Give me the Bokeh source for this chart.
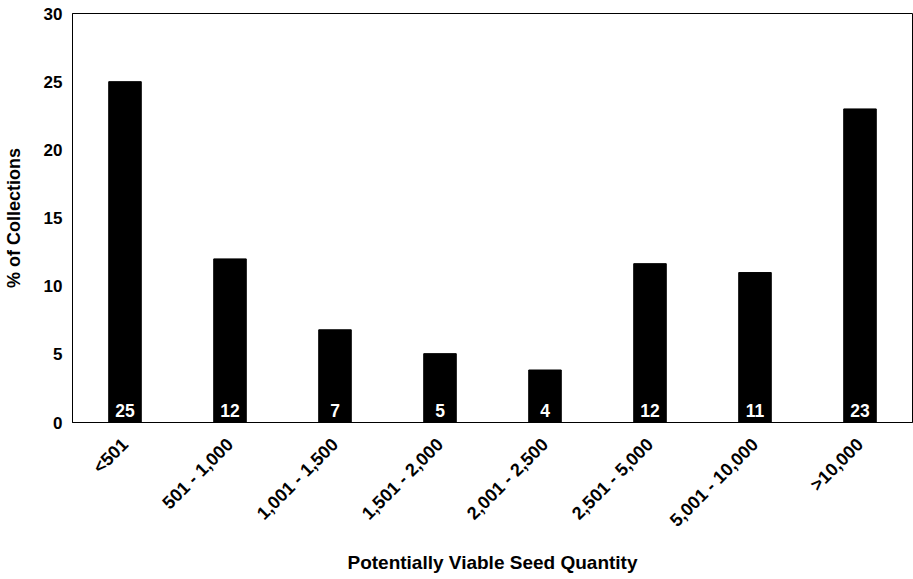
from bokeh.plotting import figure
from bokeh.models import ColumnDataSource, FactorRange, Range1d, FixedTicker
from bokeh.core.properties import value
from bokeh.embed import file_html
from bokeh.resources import INLINE
import math

categories = ["<501", "501 - 1,000", "1,001 - 1,500", "1,501 - 2,000",
              "2,001 - 2,500", "2,501 - 5,000", "5,001 - 10,000", ">10,000"]
percent = [25.0, 12.0, 6.8, 5.05, 3.85, 11.65, 11.0, 23.0]
bar_labels = ["25", "12", "7", "5", "4", "12", "11", "23"]
y_ticks = [0, 5, 10, 15, 20, 25, 30]

FONT = "Liberation Sans"

src = ColumnDataSource(dict(cat=categories, val=percent, lab=bar_labels,
                            ly=[0.85] * len(categories)))

p = figure(width=913, height=575, x_range=FactorRange(*categories),
           y_range=Range1d(0, 30), output_backend="svg", toolbar_location=None,
           min_border_left=72, min_border_top=13, min_border_right=1,
           min_border_bottom=10)

p.vbar(x="cat", top="val", width=0.31, source=src, fill_color="black",
       line_color="black")
p.text(x="cat", y="ly", text="lab", source=src, text_color="white",
       text_font=value(FONT), text_font_style="bold", text_font_size="17.5px",
       text_align="center", text_baseline="alphabetic")

p.xgrid.visible = False
p.ygrid.visible = False
p.outline_line_color = "black"
p.outline_line_width = 1

p.yaxis.ticker = FixedTicker(ticks=y_ticks)
for ax in (p.xaxis[0], p.yaxis[0]):
    ax.axis_line_color = "black"
    ax.major_tick_out = 0
    ax.major_tick_in = 0
    ax.minor_tick_out = 0
    ax.minor_tick_in = 0
    ax.major_label_text_font = FONT
    ax.major_label_text_font_style = "bold"
    ax.major_label_text_color = "black"
    ax.axis_label_text_font = FONT
    ax.axis_label_text_font_style = "bold"
    ax.axis_label_text_color = "black"

p.yaxis.major_label_text_font_size = "17px"
p.yaxis.major_label_standoff = 10
p.yaxis.axis_label = "% of Collections"
p.yaxis.axis_label_text_font_size = "18px"
p.yaxis.axis_label_standoff = 17

p.xaxis.major_label_text_font_size = "18px"
p.xaxis.major_label_orientation = math.pi / 4
p.xaxis.major_label_standoff = 19
p.xaxis.axis_label = "Potentially Viable Seed Quantity"
p.xaxis.axis_label_text_font_size = "19px"
p.xaxis.axis_label_standoff = 11

open("out.html", "w").write(file_html(p, INLINE))
